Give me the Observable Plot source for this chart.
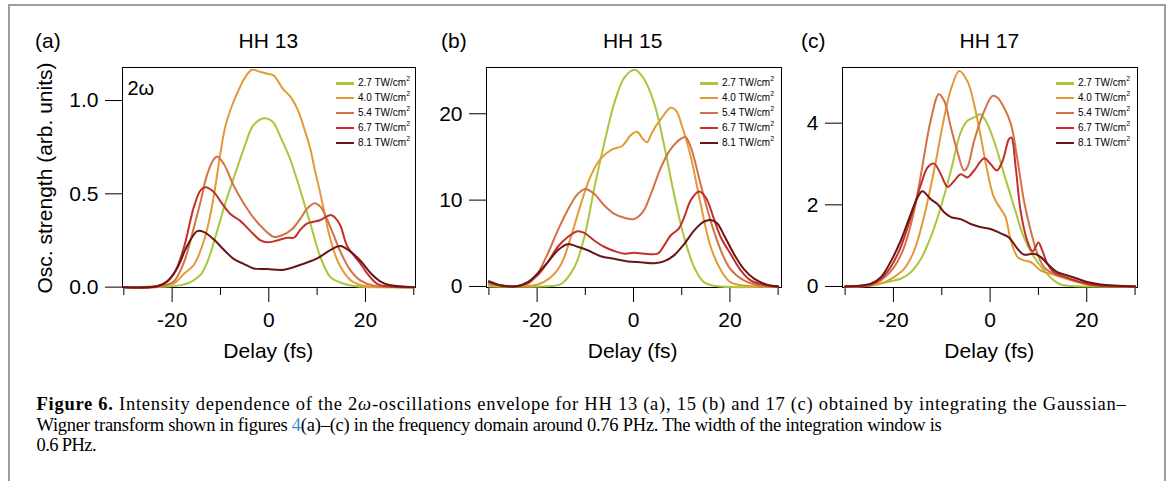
<!DOCTYPE html>
<html><head><meta charset="utf-8">
<script src="https://cdn.jsdelivr.net/npm/d3@7"></script>
<script src="https://cdn.jsdelivr.net/npm/@observablehq/plot@0.6"></script>
<style>
body{margin:0;background:#fff;}
#root{position:relative;width:1171px;height:481px;overflow:hidden;font-family:"Liberation Sans",Arial,sans-serif;color:#000;}
.border{position:absolute;left:8px;top:4px;width:1158px;height:520px;border:2px solid #9c9c9c;box-sizing:border-box;}
.abs{position:absolute;white-space:nowrap;line-height:1;}
.t21{font-size:21px;}
.leg{position:absolute;font-size:10px;line-height:1;}
.row{display:flex;align-items:center;height:14.9px;}
.sw{width:18px;height:2.5px;margin-right:4px;}
.row sup{font-size:7px;vertical-align:5px;line-height:0;}
.cap{position:absolute;white-space:nowrap;font-family:"Liberation Serif","Times New Roman",serif;line-height:1;}
.svgwrap{position:absolute;top:60px;}
</style></head>
<body><div id="root"><div class="border"></div></div>
<script>
// ---------- data ----------
const intensities = ["2.7", "4.0", "5.4", "6.7", "8.1"];
const colors = ["#aac63c", "#e39a36", "#d27246", "#c3302b", "#6b1517"];

// HH 13 (a)
const a27_t = [-30,-24,-21,-18,-16,-14,-12.5,-10.7,-9,-7.2,-5.2,-3.4,-2,-1,0,1,2.5,4.5,6.5,8.6,10.7,12.7,14.8,17.6,21,30];
const a27_v = [0,0,0.003,0.012,0.03,0.07,0.15,0.30,0.45,0.59,0.74,0.86,0.895,0.905,0.9,0.88,0.80,0.68,0.52,0.34,0.16,0.055,0.025,0.006,0,0];
const a40_t = [-30,-24.5,-21,-19.6,-17.6,-15.5,-13.4,-12,-11,-10,-9,-7.5,-6,-5,-3.5,-2,-0.5,1,2,3,4.5,6,7.2,8.6,9.5,10.5,11.5,12.5,13.5,14.8,16.8,18.5,20.3,30];
const a40_v = [0,0.003,0.014,0.02,0.07,0.12,0.25,0.40,0.55,0.72,0.86,0.98,1.07,1.12,1.165,1.155,1.145,1.135,1.10,1.06,1.02,0.95,0.86,0.74,0.63,0.52,0.40,0.28,0.19,0.11,0.04,0.015,0.005,0];
const a54_t = [-30,-22.4,-19.7,-17.6,-15.5,-14.1,-12.8,-11.5,-10.7,-9.3,-7.2,-5.2,-3.1,-1,1,2.5,4.8,6.6,7.9,9.5,10.7,12.1,13.4,14.8,16.9,19,21.7,30];
const a54_v = [0,0.003,0.03,0.13,0.32,0.46,0.6,0.68,0.70,0.66,0.54,0.45,0.37,0.31,0.27,0.275,0.31,0.37,0.42,0.45,0.43,0.36,0.28,0.19,0.09,0.035,0.008,0];
const a67_t = [-30,-22.4,-19.7,-17.6,-15.5,-14.1,-13.1,-11.4,-10,-7.9,-5.9,-3.8,-1.7,-0.3,1.7,3.8,5.2,6.6,7.9,9.3,10.7,12.8,13.8,14.8,16.2,17.6,19,20.3,22.4,25,30];
const a67_v = [0,0.01,0.07,0.21,0.43,0.52,0.535,0.51,0.46,0.39,0.355,0.30,0.25,0.24,0.25,0.265,0.265,0.31,0.34,0.35,0.36,0.387,0.37,0.33,0.22,0.17,0.125,0.075,0.018,0.003,0];
const a81_t = [-30,-23.1,-21,-19,-16.9,-14.8,-13.4,-11.4,-9.3,-7.2,-5.2,-3.1,-0.3,3.1,6.6,10,12.8,14.8,16.9,19,21,23.1,25.2,30];
const a81_v = [0,0.005,0.03,0.1,0.22,0.30,0.295,0.256,0.20,0.15,0.125,0.10,0.097,0.093,0.12,0.154,0.20,0.22,0.19,0.14,0.077,0.03,0.01,0];

// HH 15 (b)
const b27_t = [-30,-17,-15,-12.3,-10.2,-8.1,-6.1,-4,-1.9,0.3,2.2,4.3,6.3,8.4,10.5,12.6,14.6,17,30];
const b27_v = [0,0.05,0.3,2.2,5.7,11.5,16.5,21.2,24.2,25.1,24,21.2,16.5,10.7,5.7,2.2,0.5,0.05,0];
const b40_t = [-30,-24,-20,-17.1,-15,-13,-10.9,-8.8,-6.8,-4.7,-2.3,-0.6,0.8,1.9,2.8,3.9,5.7,7.7,8.8,10.1,11.9,13.9,16,18.1,20.1,22.9,30];
const b40_v = [0.2,0.05,0.2,1.1,2.6,5.7,9.6,12.9,14.8,15.8,16.3,17.5,17.9,17.1,16.7,17.9,19.4,20.7,20.4,18.5,15,9.6,4.6,1.9,0.5,0.1,0];
const b54_t = [-30,-25.4,-21.9,-19.9,-17.8,-15.7,-13.7,-11.6,-10,-8.1,-6.1,-4,-1.9,0.1,1.9,3.6,5.7,7.7,9.8,10.8,11.9,13.9,16,18.1,20.1,22.9,26.3,30];
const b54_v = [0.3,0.02,0.3,1.5,3.8,6.5,8.8,10.7,11.3,10.7,9.4,8.4,7.95,7.8,8.6,10.7,13.8,15.9,17.1,17.3,16.1,11.9,7.6,4.2,2,0.7,0.1,0];
const b67_t = [-30,-27.4,-24,-21.9,-19.9,-17.8,-15.7,-13.7,-11.6,-10.2,-8.1,-6.1,-4,-1.9,0.1,2.2,5,6.3,7.7,9.4,10.5,11.9,13.6,15,16.7,18.1,20.1,22.2,24.3,27,30];
const b67_v = [0.5,0.1,0.05,0.5,1.3,2.8,4.6,5.7,6.4,6.2,5.3,4.6,4.1,3.8,3.9,3.8,3.8,4.7,5.9,6.7,8,10,11,10.3,7.8,5.7,3.8,1.9,0.7,0.2,0];
const b81_t = [-30,-27.4,-24,-21.9,-19.9,-17.8,-15.7,-13.7,-11.6,-9.5,-6.8,-4,-1.2,1.5,4.3,6.3,8.4,10.5,12.6,14.6,16,17.4,18.8,20.8,22.9,25,27.7,30];
const b81_v = [0.6,0.1,0.05,0.5,1.5,2.8,4.2,4.9,4.6,4.2,3.5,3.2,2.9,2.8,2.7,2.9,3.6,4.9,6.5,7.5,7.7,7.3,5.9,3.8,2,0.9,0.2,0];

// HH 17 (c)
const c27_t = [-30,-24.7,-22.6,-20.6,-18.5,-16.4,-14.3,-12.3,-10.2,-8.1,-6.1,-4.7,-3.3,-2.1,-0.9,0.8,2.9,5,7,9.1,11.2,13.2,14.6,17,30];
const c27_v = [0,0.02,0.07,0.13,0.19,0.35,0.68,1.2,1.94,2.84,3.77,4.06,4.14,4.22,4.06,3.57,2.75,1.94,1.2,0.72,0.39,0.15,0.05,0.01,0];
const c40_t = [-30,-24.7,-21.9,-19.9,-17.8,-15.7,-13.7,-11.6,-9.5,-8.1,-6.4,-4.7,-3.3,-1.9,-0.6,0.8,2.2,3.2,4.3,5.7,7,8.4,10.5,12.6,14.6,17.4,20.1,30];
const c40_v = [0,0.03,0.1,0.23,0.43,0.88,1.7,2.84,4.14,4.83,5.28,5.03,4.46,3.65,2.84,2.18,1.9,1.7,1.12,0.72,0.64,0.6,0.39,0.31,0.23,0.13,0.05,0];
const c54_t = [-30,-24.7,-22.6,-19.9,-17.8,-15.7,-14.3,-12.3,-10.6,-9.5,-8.1,-6.8,-5.4,-4.7,-3.3,-1.2,0.5,1.5,2.9,4.3,5.7,7,8.4,9.8,11.2,13.2,15.3,18.1,20.8,30];
const c54_v = [0,0.03,0.15,0.47,0.96,1.86,2.75,4.06,4.71,4.55,3.89,3.32,2.84,2.92,3.57,4.3,4.67,4.63,4.38,3.98,3.08,2.1,1.37,0.8,0.47,0.31,0.23,0.13,0.05,0];
const c67_t = [-30,-24.7,-22.6,-20.6,-18.5,-16.4,-14.3,-12.9,-11.6,-10.2,-8.8,-7.4,-6.1,-4.7,-3.3,-1.2,0.1,1.4,2.6,3.9,4.4,5.3,6.3,7.7,8.8,10,10.8,11.9,13.2,16,18.8,21.5,30];
const c67_v = [0,0.05,0.19,0.47,0.96,1.7,2.5,2.92,3.01,2.75,2.44,2.59,2.75,2.67,2.84,3.14,3.0,2.84,3.08,3.61,3.65,2.92,1.86,1.12,0.86,1.08,0.88,0.55,0.35,0.21,0.1,0.03,0];
const c81_t = [-30,-24.7,-22.6,-20.6,-18.5,-16.4,-15,-14,-12.3,-10.9,-9.5,-8.1,-6.1,-4,-1.9,0.1,2.2,3.9,5.7,7,9.1,10.5,11.9,13.9,16,18.1,20.1,22.9,30];
const c81_v = [0,0.07,0.23,0.6,1.12,1.78,2.18,2.33,2.14,2.02,1.82,1.7,1.65,1.53,1.45,1.41,1.3,1.2,0.92,0.78,0.8,0.72,0.55,0.35,0.27,0.19,0.11,0.05,0];

const panelLabels = ["(a)", "(b)", "(c)"];
const panelTitles = ["HH 13", "HH 15", "HH 17"];
const xTicksMajor = [-20, 0, 20];
const xTicksMinor = [-30, -10, 10, 30];
const yTicksA = [0, 0.5, 1.0];
const yTicksB = [0, 10, 20];
const yTicksC = [0, 2, 4];

// ---------- layout ----------
const root = document.getElementById("root");
function zip(t, v, s) { return t.map((x, i) => ({delay: x, value: v[i], series: s})); }

const panels = [
  {left: 0, width: 420, ml: 122, mr: 5, xd: [-30.27, 30.35], yd: [-0.002, 1.177], yt: yTicksA, fmt: d => d.toFixed(1),
   series: [[a27_t,a27_v],[a40_t,a40_v],[a54_t,a54_v],[a67_t,a67_v],[a81_t,a81_v]], legX: 336, titleX: 268.3, labX: 35},
  {left: 420, width: 370, ml: 66, mr: 9, xd: [-30.5, 30.7], yd: [-0.12, 25.36], yt: yTicksB, fmt: d => String(d),
   series: [[b27_t,b27_v],[b40_t,b40_v],[b54_t,b54_v],[b67_t,b67_v],[b81_t,b81_v]], legX: 700, titleX: 632.7, labX: 441},
  {left: 790, width: 360, ml: 52, mr: 13, xd: [-30.54, 30.5], yd: [-0.025, 5.364], yt: yTicksC, fmt: d => String(d),
   series: [[c27_t,c27_v],[c40_t,c40_v],[c54_t,c54_v],[c67_t,c67_v],[c81_t,c81_v]], legX: 1056, titleX: 989.3, labX: 801}
];

panels.forEach((p, k) => {
  const marks = [
    Plot.frame({stroke: "#000", strokeWidth: 1}),
    Plot.axisY(p.yt, {tickSize: 17, tickPadding: 7, tickFormat: p.fmt, fontSize: 21, label: null, strokeWidth: 1}),
    Plot.axisX(xTicksMinor, {tickSize: 8, tickFormat: () => "", label: null}),
    Plot.axisX(xTicksMajor, {tickSize: 15, tickPadding: 10, tickFormat: d => String(d), fontSize: 21, label: null})
  ];
  p.series.forEach(([t, v], i) => {
    marks.push(Plot.lineY(zip(t, v, intensities[i]), {x: "delay", y: "value", stroke: colors[i], strokeWidth: 2, curve: "catmull-rom"}));
  });
  if (k === 0) marks.push(Plot.text(["2ω"], {frameAnchor: "top-left", dx: 5, dy: 13, fontSize: 20, textAnchor: "start"}));
  const chart = Plot.plot({
    width: p.width, height: 280, marginTop: 7, marginBottom: 53, marginLeft: p.ml, marginRight: p.mr,
    x: {domain: p.xd}, y: {domain: p.yd},
    style: {fontFamily: '"Liberation Sans", Arial, sans-serif', color: "#000", background: "transparent", overflow: "visible"},
    marks
  });
  const w = document.createElement("div");
  w.className = "svgwrap"; w.style.left = p.left + "px";
  w.appendChild(chart); root.appendChild(w);

  const lab = document.createElement("div");
  lab.className = "abs t21"; lab.textContent = panelLabels[k];
  lab.style.left = p.labX + "px"; lab.style.top = "29.5px"; root.appendChild(lab);
  const ttl = document.createElement("div");
  ttl.className = "abs t21"; ttl.textContent = panelTitles[k];
  ttl.style.left = p.titleX + "px"; ttl.style.top = "29.5px"; ttl.style.transform = "translateX(-50%)"; root.appendChild(ttl);
  const xt = document.createElement("div");
  xt.className = "abs t21"; xt.textContent = "Delay (fs)";
  xt.style.left = p.titleX + "px"; xt.style.top = "339.5px"; xt.style.transform = "translateX(-50%)"; root.appendChild(xt);
  const leg = document.createElement("div");
  leg.className = "leg"; leg.style.left = p.legX + "px"; leg.style.top = (83.3 - 7.45) + "px";
  intensities.forEach((s, i) => {
    const r = document.createElement("div"); r.className = "row";
    r.innerHTML = `<span class="sw" style="background:${colors[i]}"></span><span>${s} TW/cm<sup>2</sup></span>`;
    leg.appendChild(r);
  });
  root.appendChild(leg);
});

const yt = document.createElement("div");
yt.className = "abs t21"; yt.textContent = "Osc. strength (arb. units)";
yt.style.left = "43.5px"; yt.style.top = "178px"; yt.style.transform = "translate(-50%,-50%) rotate(-90deg)";
root.appendChild(yt);

// caption
const capLines = [
  '<b>Figure 6.</b> Intensity dependence of the 2<i>ω</i>-oscillations envelope for HH 13 (a), 15 (b) and 17 (c) obtained by integrating the Gaussian–',
  'Wigner transform shown in figures <span style="color:#3a8fd2">4</span>(a)–(c) in the frequency domain around 0.76 PHz. The width of the integration window is',
  '0.6 PHz.'
];
const capTargets = [1090, 905, 58];
const baselines = [410.5, 431, 451.5];
const fs = 18.5;
capLines.forEach((h, i) => {
  const d = document.createElement("div");
  d.className = "cap"; d.innerHTML = h; d.style.left = "36.5px"; d.style.fontSize = fs + "px";
  d.style.top = (baselines[i] - 0.8375 * fs) + "px";
  root.appendChild(d);
  const w0 = d.getBoundingClientRect().width;
  const nch = h.replace(/<[^>]+>/g, "").length;
  const ls = (capTargets[i] - w0) / nch;
  d.style.letterSpacing = Math.max(-0.6, Math.min(1.2, ls)) + "px";
});
</script>
</body></html>
